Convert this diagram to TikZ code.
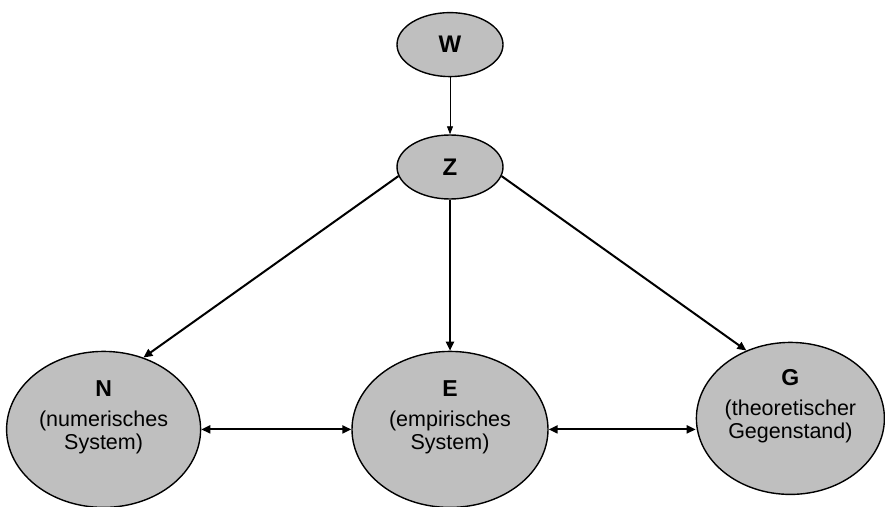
\documentclass[tikz,border=0pt]{standalone}
\usepackage{fontspec}
\setmainfont{Liberation Sans}
\usetikzlibrary{shapes, positioning, arrows.meta}

\begin{document}
\begin{tikzpicture}[x=1pt, y=1pt,
  small/.style = {ellipse, draw, line width=1.4pt, fill=black!25,
    minimum width=106pt, minimum height=64pt, inner sep=0pt,
    font=\fontsize{24}{26}\selectfont\bfseries},
  model/.style = {ellipse, draw, line width=1.4pt, fill=black!25, inner sep=0pt,
    align=center, font=\fontsize{21.5}{23}\selectfont},
  edge/.style = {-{Triangle[length=9pt, width=8pt]}, line width=2pt},
  link/.style = {{Triangle[length=9pt, width=8pt]}-{Triangle[length=9pt, width=8pt]}, line width=2pt},
  thinedge/.style = {-{Triangle[length=8pt, width=6pt]}, line width=0.8pt}]

  \useasboundingbox (0,0) rectangle (885,-506);

  \node[small] (z) at (450,-167) {Z};
  \node[small, above = 57pt of z] (w) {W};

  \node[model, minimum width=196pt, minimum height=156pt, below = 151pt of z] (e)
    {{\fontsize{23}{25}\selectfont\textbf{E}}\\[7pt](empirisches\\System)\\[6pt]};
  \node[model, minimum width=194pt, minimum height=156pt, left = 150pt of e] (n)
    {{\fontsize{23}{25}\selectfont\textbf{N}}\\[7pt](numerisches\\System)\\[6pt]};
  \node[model, minimum width=188pt, minimum height=152pt, right = 147pt of e, yshift=11pt] (g)
    {{\fontsize{23}{25}\selectfont\textbf{G}}\\[7pt](theoretischer\\Gegenstand)\\[6pt]};

  \draw[thinedge] (w) to (z);
  \draw[edge] (z.190) to (n.61);
  \draw[edge] (z) to (e);
  \draw[edge] (z.-10) to (g.123);
  \draw[link] (n.east |- e.west) to (e.west);
  \draw[link] (e.east) to (g.west |- e.east);
\end{tikzpicture}
\end{document}
